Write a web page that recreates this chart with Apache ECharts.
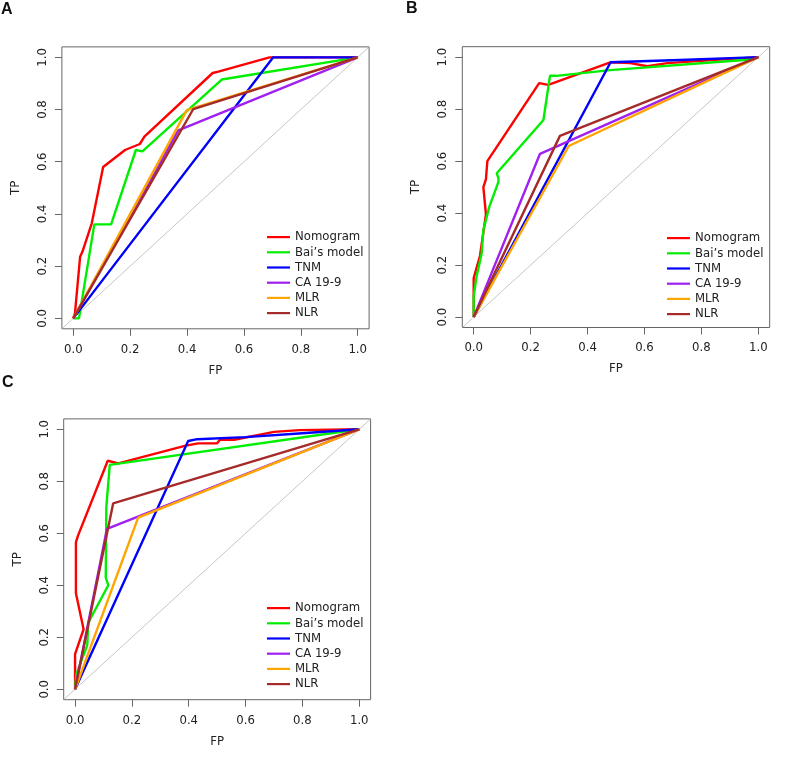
<!DOCTYPE html>
<html>
<head>
<meta charset="utf-8">
<script src="https://cdn.jsdelivr.net/npm/echarts@6/dist/echarts.min.js"></script>
<style>
html,body{margin:0;padding:0;background:#fff;}
#chart{width:790px;height:757px;}
</style>
</head>
<body>
<div id="chart"></div>
<script>
// ---------- data ----------
const seriesNames = ['Nomogram', 'Bai\u2019s model', 'TNM', 'CA 19-9', 'MLR', 'NLR'];
const seriesColors = ['#ff0000', '#00ee00', '#0000ff', '#a020f0', '#ffa500', '#a52a2a'];
const tickValues = [0, 0.2, 0.4, 0.6, 0.8, 1.0];
const panelLabels = ['A', 'B', 'C'];
const axisMin = -0.04, axisMax = 1.04;

// Panel A
const nomogramA = [[0,0],[0.006,0.02],[0.024,0.236],[0.032,0.255],[0.065,0.364],[0.105,0.58],[0.111,0.587],[0.182,0.645],[0.234,0.668],[0.25,0.696],[0.49,0.94],[0.51,0.945],[0.69,1.0],[1,1]];
const baiA = [[0,0],[0.02,0],[0.074,0.36],[0.133,0.36],[0.22,0.645],[0.243,0.64],[0.522,0.915],[1,1]];
const tnmA = [[0,0],[0.703,1],[1,1]];
const ca199A = [[0,0],[0.369,0.72],[1,1]];
const mlrA = [[0,0],[0.399,0.798],[1,1]];
const nlrA = [[0,0],[0.422,0.802],[1,1]];

// Panel B
const nomogramB = [[0,0],[0,0.15],[0.022,0.235],[0.043,0.395],[0.034,0.5],[0.043,0.53],[0.048,0.6],[0.23,0.9],[0.262,0.893],[0.48,0.98],[0.55,0.977],[0.61,0.965],[0.68,0.977],[1,1]];
const baiB = [[0,0],[0,0.08],[0.01,0.155],[0.028,0.245],[0.034,0.335],[0.055,0.425],[0.087,0.52],[0.087,0.535],[0.081,0.553],[0.245,0.758],[0.268,0.928],[0.29,0.928],[0.48,0.95],[0.96,0.99],[1,1]];
const tnmB = [[0,0],[0.481,0.98],[0.75,0.99],[1,1]];
const ca199B = [[0,0],[0.233,0.628],[1,1]];
const mlrB = [[0,0],[0.334,0.658],[1,1]];
const nlrB = [[0,0],[0.303,0.697],[1,1]];

// Panel C
const nomogramC = [[0,0],[0,0.135],[0.03,0.231],[0.003,0.369],[0.003,0.565],[0.01,0.59],[0.115,0.879],[0.152,0.869],[0.386,0.936],[0.433,0.946],[0.5,0.946],[0.51,0.96],[0.56,0.96],[0.7,0.99],[0.79,0.997],[1,1]];
const baiC = [[0,0],[0.005,0.06],[0.043,0.17],[0.046,0.254],[0.058,0.28],[0.117,0.4],[0.108,0.43],[0.11,0.7],[0.122,0.863],[1,1]];
const tnmC = [[0,0],[0.398,0.955],[0.43,0.962],[0.6,0.97],[0.8,0.985],[1,1]];
const ca199C = [[0,0],[0.112,0.617],[1,1]];
const mlrC = [[0,0],[0.222,0.66],[1,1]];
const nlrC = [[0,0],[0.134,0.715],[1,1]];

const panelData = [
  [nomogramA, baiA, tnmA, ca199A, mlrA, nlrA],
  [nomogramB, baiB, tnmB, ca199B, mlrB, nlrB],
  [nomogramC, baiC, tnmC, ca199C, mlrC, nlrC]
];
const diagonal = [[axisMin, axisMin], [axisMax, axisMax]];

// ---------- layout / style ----------
const FONT = "'DejaVu Sans Condensed', 'DejaVu Sans', sans-serif";
const grids = [
  {left: 61.9, top: 46.9, width: 307.2, height: 281.9},
  {left: 462.3, top: 46.7, width: 307.4, height: 280.8},
  {left: 63.7, top: 418.9, width: 306.9, height: 280.8}
];
const legendPos = [
  {left: 267, top: 229.5},
  {left: 667, top: 230.5},
  {left: 267, top: 600.5}
];
const letterPos = [[1, 2], [406, 1], [2, 375]];
const boxColor = '#666';
const textColor = '#222';

const option = {
  animation: false,
  backgroundColor: '#fff',
  grid: grids.map(g => Object.assign({show: true, borderColor: boxColor, borderWidth: 1, backgroundColor: 'transparent', containLabel: false}, g)),
  xAxis: grids.map((g, i) => ({
    gridIndex: i, type: 'value', min: axisMin, max: axisMax,
    axisLine: {show: false, onZero: false}, splitLine: {show: false},
    axisTick: {show: true, customValues: tickValues, length: 7, lineStyle: {color: boxColor}},
    axisLabel: {customValues: tickValues, formatter: v => v.toFixed(1), margin: 14, color: textColor, fontSize: 13, fontFamily: FONT},
    name: 'FP', nameLocation: 'middle', nameGap: 35,
    nameTextStyle: {color: textColor, fontSize: 13, fontFamily: FONT}
  })),
  yAxis: grids.map((g, i) => ({
    gridIndex: i, type: 'value', min: axisMin, max: axisMax,
    axisLine: {show: false, onZero: false}, splitLine: {show: false},
    axisTick: {show: true, customValues: tickValues, length: 7, lineStyle: {color: boxColor}},
    axisLabel: {customValues: tickValues, formatter: v => v.toFixed(1), rotate: 90, margin: 13, color: textColor, fontSize: 13, fontFamily: FONT},
    name: 'TP', nameLocation: 'middle', nameGap: 40,
    nameTextStyle: {color: textColor, fontSize: 13, fontFamily: FONT}
  })),
  legend: legendPos.map((p, i) => ({
    orient: 'vertical', left: p.left, top: p.top, padding: 0,
    data: seriesNames, icon: 'rect', itemWidth: 23, itemHeight: 2.2, itemGap: 0,
    selectedMode: false,
    textStyle: {color: textColor, fontSize: 13, lineHeight: 15.2, fontFamily: FONT, padding: [0,0,0,0]}
  })),
  graphic: panelLabels.map((t, i) => ({
    type: 'text', left: letterPos[i][0], top: letterPos[i][1],
    style: {text: t, fontSize: 16, fontWeight: 'bold', fontFamily: "'Liberation Sans', Arial, sans-serif", fill: '#111'}
  })),
  series: []
};

for (let p = 0; p < 3; p++) {
  option.series.push({
    type: 'line', xAxisIndex: p, yAxisIndex: p, data: diagonal,
    symbol: 'none', silent: true, lineStyle: {color: '#b8b8b8', width: 0.8}, z: 1
  });
  panelData[p].forEach((d, k) => {
    option.series.push({
      name: seriesNames[k], type: 'line', xAxisIndex: p, yAxisIndex: p, data: d,
      symbol: 'none', color: seriesColors[k],
      lineStyle: {color: seriesColors[k], width: 2.4}, z: 2 + k
    });
  });
}

const chart = echarts.init(document.getElementById('chart'), null, {renderer: 'canvas'});
chart.setOption(option);
</script>
</body>
</html>
